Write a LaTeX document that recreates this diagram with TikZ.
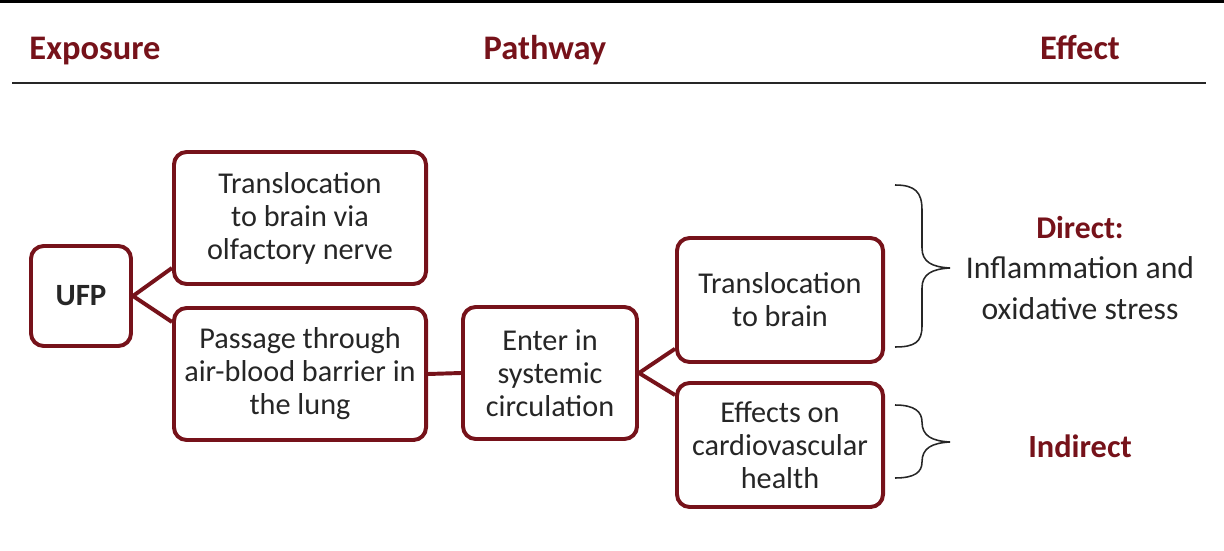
\documentclass[tikz,border=0pt]{standalone}
\usepackage{fontspec}
\setmainfont{Carlito}
\usepackage{tikz}
\usetikzlibrary{positioning}
\definecolor{ufpred}{RGB}{118,18,26}
\definecolor{ufptext}{RGB}{38,38,38}

\begin{document}
\begin{tikzpicture}[x=0.025cm, y=-0.025cm,
    every node/.style={font=\fontsize{21.5}{23.5}\selectfont, text=ufptext},
    pathbox/.style={draw=ufpred, line width=2.8pt, rounded corners=9pt, fill=white, align=center, inner sep=2pt},
    head/.style={font=\fontsize{24.5}{28}\selectfont\bfseries, text=ufpred, anchor=base},
    link/.style={draw=ufpred, line width=2.8pt},
    bracepath/.style={draw=ufptext, line width=1.1pt}]
  \useasboundingbox (0,0) rectangle (1224,551);
  \fill[black] (0,0) rectangle (1224,3);
  % column headings
  \node[head] (hexp) at (95,60) {Exposure};
  \node[head] (hpath) at (545,60) {Pathway};
  \node[head] (heff) at (1080,60) {Effect};
  \draw[ufptext, line width=1.8pt] (12,83) -- (1206,83);
  % boxes
  \node[pathbox, minimum width=2.5cm, minimum height=2.5cm, font=\fontsize{22}{24}\selectfont\bfseries] (ufp) at (81,296) {UFP};
  \node[pathbox, minimum width=6.3cm, minimum height=3.3cm] (olf) at (300,218) {Translocation\\to brain via\\olfactory nerve};
  \node[pathbox, minimum width=6.3cm, minimum height=3.3cm] (lung) at (300,374) {Passage through\\air-blood barrier in\\the lung};
  \node[pathbox, minimum width=4.35cm, minimum height=3.3cm] (circ) at (550,373) {Enter in\\systemic\\circulation};
  \node[pathbox, minimum width=5.15cm, minimum height=3.1cm] (brain) at (780,300) {Translocation\\to brain};
  \node[pathbox, minimum width=5.15cm, minimum height=3.1cm] (cardio) at (780,445) {Effects on\\cardiovascular\\health};
  % connectors
  \draw[link] (ufp.east) -- ([yshift=0.45cm]olf.south west);
  \draw[link] (ufp.east) -- ([yshift=-0.4cm]lung.north west);
  \draw[link] (lung.east) -- (circ.west);
  \draw[link] (circ.east) -- ([yshift=0.38cm]brain.south west);
  \draw[link] (circ.east) -- ([yshift=-0.35cm]cardio.north west);
  % braces and effects
  \draw[bracepath] (895,185) .. controls (915,185) and (922,192) .. (922,210) -- (922,248)
    .. controls (922,262) and (932,267) .. (950,268) .. controls (932,269) and (922,274) .. (922,288)
    -- (922,326) .. controls (922,342) and (915,347) .. (895,347);
  \draw[bracepath] (895,405) .. controls (915,405) and (922,412) .. (922,422)
    .. controls (922,436) and (932,441) .. (950,442) .. controls (932,443) and (922,448) .. (922,462)
    .. controls (922,472) and (915,478) .. (895,478);
  \node[align=center, font=\fontsize{22.5}{28.5}\selectfont] (direct) at (1080,268) {\textcolor{ufpred}{\bfseries Direct:}\\Inflammation and\\oxidative stress};
  \node[font=\fontsize{23}{26}\selectfont\bfseries, text=ufpred] (indirect) at (1080,446) {Indirect};
\end{tikzpicture}
\end{document}
